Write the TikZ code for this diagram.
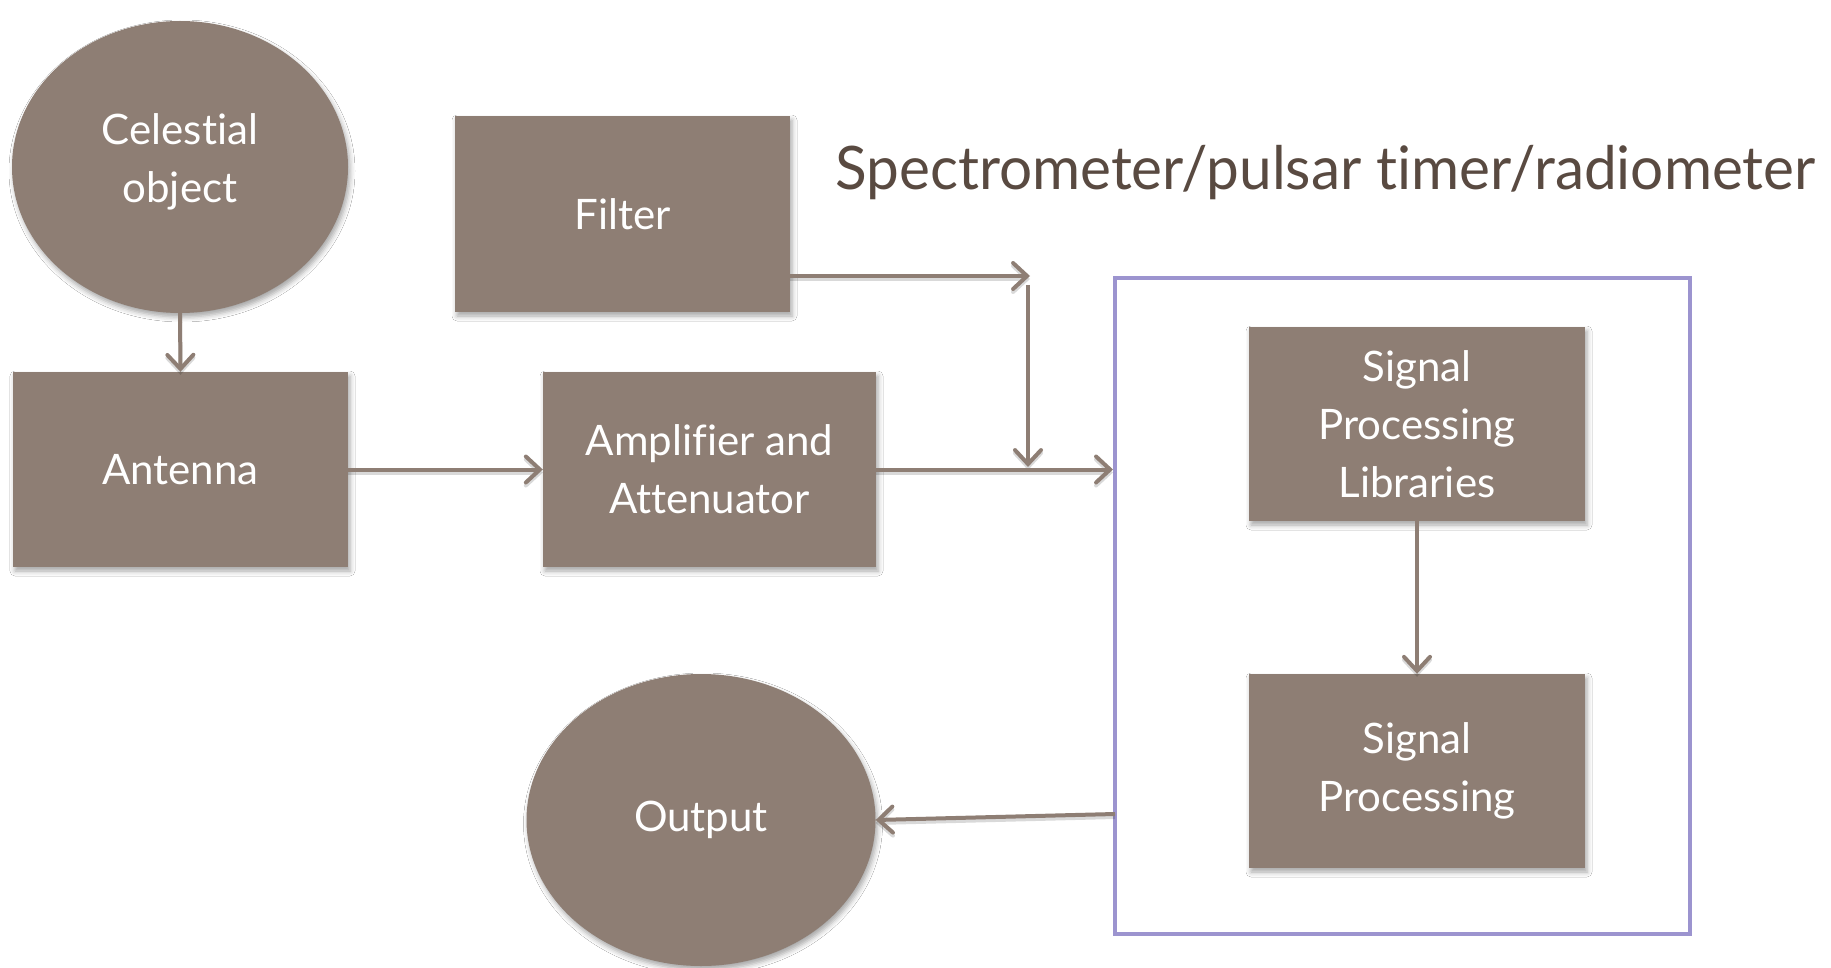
\documentclass[tikz,border=0pt]{standalone}
\usepackage{fontspec}
\setmainfont{Lato}[Ligatures=NoCommon]
\usetikzlibrary{arrows.meta,shapes.geometric,shadows.blur}
\definecolor{boxc}{HTML}{8E7E74}
\definecolor{titlec}{HTML}{594A41}
\definecolor{framec}{HTML}{9C94CF}
\tikzset{
  softshadow/.style={blur shadow={shadow xshift=2pt,shadow yshift=-4pt,shadow blur radius=5pt,shadow opacity=35}},
  blockbox/.style={rectangle,fill=boxc,text=white,align=center,inner sep=0pt,
    font=\fontsize{42}{58}\selectfont,softshadow},
  blob/.style={ellipse,fill=boxc,text=white,align=center,inner sep=0pt,
    font=\fontsize{42}{58}\selectfont,softshadow},
  arr/.style={draw=boxc,line width=4pt,-{Straight Barb[length=14pt,width=26pt,line cap=round]},
    preaction={draw=black,opacity=0.15,line width=4pt,transform canvas={yshift=-3pt}}}
}
\begin{document}
\begin{tikzpicture}[x=1pt,y=-1pt]
\useasboundingbox (0,0) rectangle (1831,968);
\fill[white] (0,0) rectangle (1831,968);

% processing frame
\node[draw=framec,line width=4pt,minimum width=575pt,minimum height=656pt,inner sep=0pt] (frame) at (1402.5,606) {};

% blocks
\node[blob,minimum width=336pt,minimum height=292pt] (cel) at (180,167) {};
\node[text=white,align=center,inner sep=0pt,font=\fontsize{42}{58}\selectfont] (celtext) at (180,162) {Celestial\\object};
\node[blockbox,minimum width=335pt,minimum height=195pt] (ant) at (180.5,469.5) {Antenna};
\node[blockbox,minimum width=335pt,minimum height=196pt] (fil) at (622.5,214) {Filter};
\node[blockbox,minimum width=333pt,minimum height=195pt] (amp) at (709.5,469.5) {Amplifier and\\Attenuator};
\node[blockbox,minimum width=336pt,minimum height=194pt] (lib) at (1417,424) {Signal\\Processing\\Libraries};
\node[blockbox,minimum width=336pt,minimum height=194pt] (sp) at (1417,771) {Signal\\Processing};
\node[blob,minimum width=349pt,minimum height=292pt] (out) at (701,820) {Output};

% heading
\node[anchor=west,text=titlec,inner sep=0pt,font=\fontsize{60}{70}\selectfont] (title) at (835,173)
  {\scalebox{0.975}[1]{Spectrometer/pulsar timer/radiometer}};

% connectors
\coordinate (fj) at (1030,276);
\coordinate (ftop) at (1028,285);
\coordinate (fbot) at (1028,467);
\coordinate (outsrc) at (1115,814);

\draw[arr] (cel.south) -- (ant.north);
\draw[arr] (ant.east) -- (amp.west);
\draw[arr] (fil.east |- fj) -- (fj);
\draw[arr] (ftop) -- (fbot);
\draw[arr] (amp.east) -- (frame.west |- amp.east);
\draw[arr] (lib.south) -- (sp.north);
\draw[arr] (outsrc) -- (out.east);
\end{tikzpicture}
\end{document}
